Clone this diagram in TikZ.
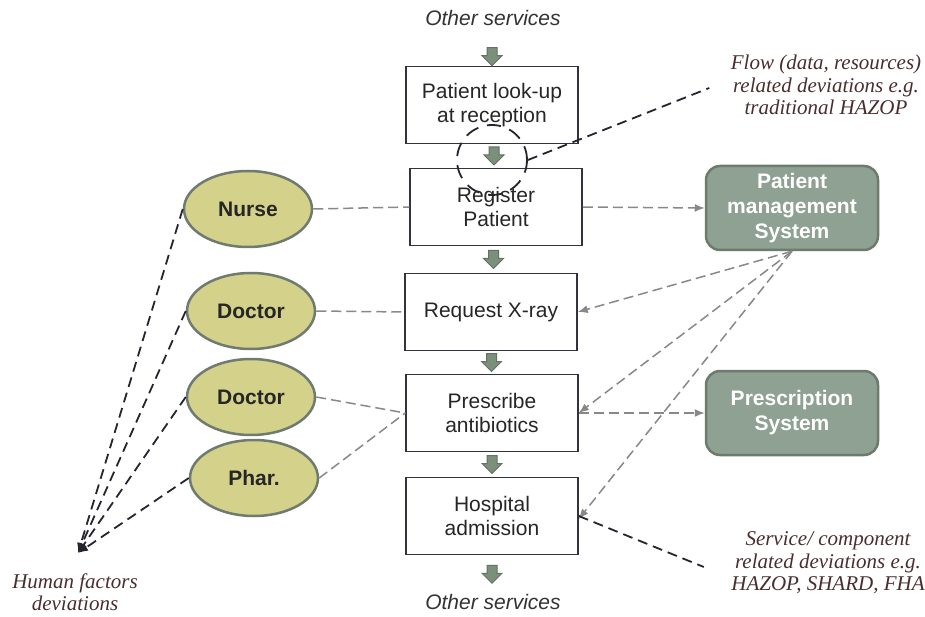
\documentclass[tikz,border=0pt]{standalone}
\usepackage{fontspec}
\setmainfont{Liberation Sans}
\newfontfamily\notefont{Liberation Serif}
\usetikzlibrary{calc,shapes.geometric,arrows.meta}

\definecolor{boxline}{HTML}{33333F}
\definecolor{actorfill}{HTML}{D4D18A}
\definecolor{actorline}{HTML}{6E7B6E}
\definecolor{sysfill}{HTML}{8FA193}
\definecolor{sysline}{HTML}{6B7B6D}
\definecolor{flowfill}{HTML}{7C8E7C}
\definecolor{linkgray}{HTML}{888888}
\definecolor{hazdark}{HTML}{25252F}
\definecolor{notebrown}{HTML}{4A2E2E}

\tikzset{
  box/.style={draw=boxline, line width=1.5pt, minimum width=172pt, minimum height=77pt,
    align=center, font=\fontsize{21}{24}\selectfont, text=black!85},
  actor/.style={ellipse, draw=actorline, line width=2.5pt, fill=actorfill, inner sep=0pt,
    minimum width=128pt, minimum height=76pt, font=\fontsize{21}{24}\selectfont\bfseries, text=black!85},
  system/.style={rounded corners=14pt, draw=sysline, line width=2.5pt, fill=sysfill,
    minimum width=172pt, minimum height=84pt, align=center, text=white,
    font=\fontsize{21}{25}\selectfont\bfseries},
  note/.style={align=center, text=notebrown, font=\fontsize{21}{22.5}\selectfont\notefont\itshape},
  others/.style={font=\fontsize{21}{24}\selectfont\itshape, text=black!80},
  link/.style={draw=linkgray, line width=1.5pt, dash pattern=on 10pt off 5pt},
  hazard/.style={draw=hazdark, line width=1.8pt, dash pattern=on 10pt off 6pt},
  flow/.style={fill=flowfill, draw=flowfill!80!black, line width=1pt},
}

% block arrow pointing down, centred on a coordinate
\newcommand\flowdown[1]{%
  \draw[flow] ($(#1)+(-5,-9)$) -- ++(10,0) -- ++(0,8) -- ++(5,0) -- ++(-10,10)
    -- ++(-10,-10) -- ++(5,0) -- cycle;}

\begin{document}
\begin{tikzpicture}[>={Latex[length=10pt,width=8pt]}, x=1pt, y=-1pt]
\useasboundingbox (0,0) rectangle (925,617);

% process steps
\node[others] (intop) at (493,18) {Other services};
\node[box] (lookup) at (492,105) {Patient look-up\\at reception};
\node[box] (register) at (496,207) {Register\\Patient};
\node[box] (xray) at (491,312) {Request X-ray};
\node[box] (prescribe) at (492,413) {Prescribe\\antibiotics};
\node[box] (admission) at (492,516) {Hospital\\admission};
\node[others] (outbottom) at (493,602) {Other services};

% flow arrows
\coordinate (fa) at ($(lookup.north)+(0,-9)$);
\flowdown{fa}
\foreach \a/\b in {lookup/register, register/xray, xray/prescribe, prescribe/admission} {
  \coordinate (fm) at ($(\a.south)!0.5!(\b.north)$);
  \flowdown{fm}
}
\coordinate (fz) at ($(admission.south)+(0,19)$);
\flowdown{fz}

% people
\node[actor] (nurse) at (248,209) {Nurse};
\node[actor] (doctorA) at (251,311) {Doctor};
\node[actor] (doctorB) at (251,397) {Doctor};
\node[actor] (phar) at (254,478) {Phar.};

% systems
\node[system] (pms) at (792,208) {Patient\\management\\System};
\node[system] (presys) at (792,413) {Prescription\\System};

% people to steps
\draw[link] (nurse.east) -- (register.west);
\draw[link] (doctorA.east) -- (xray.west);
\draw[link] (doctorB.east) -- (prescribe.west);
\draw[link] (phar.east) -- (prescribe.west);

% systems to steps
\draw[link,->] (register.east) -- (pms.west);
\draw[link,->] (pms.south) -- (xray.east);
\draw[link,->] (pms.south) -- (prescribe.east);
\draw[link,->] (pms.south) -- ([yshift=-3pt]admission.east);
\draw[link,->] (prescribe.east) -- (presys.west);

% deviation notes
\node[hazard, dash pattern=on 14pt off 9pt, circle, minimum size=70pt, inner sep=0pt] (ring) at (492,160) {};
\node[note] (flownote) at (826,85) {Flow (data, resources)\\related deviations e.g.\\traditional HAZOP};
\draw[hazard] (ring.east) -- ([xshift=-18pt,yshift=-3pt]flownote.west);

\node[note] (servnote) at (828,563) {Service/ component\\related deviations e.g.\\HAZOP, SHARD, FHA};
\draw[hazard] (admission.east) -- ([xshift=-24pt,yshift=-4pt]servnote.west);

\coordinate (hf) at (78,553);
\node[note] (hfnote) at (75,592) {Human factors\\deviations};
\foreach \n in {nurse,doctorA,doctorB,phar}
  \draw[hazard,->] (\n.west) -- (hf);
\end{tikzpicture}
\end{document}
